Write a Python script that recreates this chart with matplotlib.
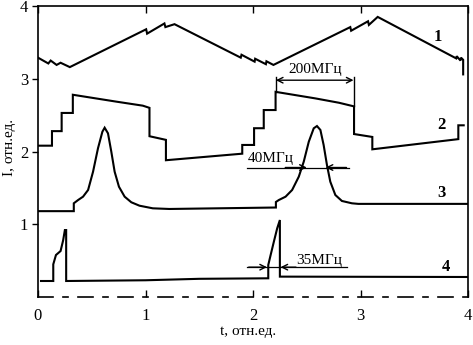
import matplotlib
matplotlib.use("Agg")
import matplotlib.pyplot as plt

plt.rcParams['font.family'] = ['Liberation Serif', 'DejaVu Serif']

# curve 1 (triangle with small jags)
t1 = [0.0, 0.096, 0.118, 0.173, 0.21, 0.296, 1.006, 1.015, 1.176, 1.185, 1.27,
      1.886, 1.893, 2.015, 2.02, 2.12, 2.125, 2.19, 2.905, 2.913, 3.07, 3.078,
      3.16, 3.89, 3.895, 3.93, 3.935, 3.955, 3.955]
i1 = [3.29, 3.21, 3.25, 3.19, 3.22, 3.16, 3.68, 3.62, 3.76, 3.71, 3.75,
      3.29, 3.33, 3.235, 3.275, 3.20, 3.24, 3.19, 3.71, 3.66, 3.79, 3.74,
      3.85, 3.28, 3.31, 3.25, 3.29, 3.26, 3.06]

# curve 2 (staircase)
t2 = [0.0, 0.13, 0.13, 0.22, 0.22, 0.324, 0.324, 0.73, 0.975, 1.037, 1.037,
      1.19, 1.19, 1.90, 1.90, 2.01, 2.01, 2.10, 2.10, 2.21, 2.21, 2.58, 2.80,
      2.94, 2.94, 3.11, 3.11, 3.91, 3.91, 3.96]
i2 = [2.08, 2.08, 2.28, 2.28, 2.53, 2.53, 2.78, 2.685, 2.63, 2.60, 2.21,
      2.16, 1.88, 1.97, 2.09, 2.09, 2.32, 2.32, 2.57, 2.57, 2.82, 2.73, 2.67,
      2.62, 2.24, 2.20, 2.03, 2.17, 2.36, 2.36]

# curve 3 (peaks)
t3 = [0.0, 0.333, 0.333, 0.373, 0.419, 0.466, 0.512, 0.558, 0.599, 0.62,
      0.651, 0.682, 0.713, 0.753, 0.806, 0.868, 0.944, 1.068, 1.222, 2.213,
      2.213, 2.24, 2.303, 2.364, 2.426, 2.472, 2.519, 2.565, 2.595, 2.627,
      2.657, 2.688, 2.719, 2.766, 2.827, 2.92, 2.98, 3.07, 4.0]
i3 = [1.18, 1.18, 1.288, 1.333, 1.379, 1.471, 1.722, 2.044, 2.272, 2.327,
      2.25, 1.997, 1.722, 1.516, 1.379, 1.302, 1.255, 1.219, 1.21, 1.23,
      1.306, 1.333, 1.379, 1.471, 1.654, 1.86, 2.135, 2.319, 2.35, 2.296,
      2.09, 1.814, 1.585, 1.402, 1.32, 1.288, 1.28, 1.28, 1.28]

# curve 4 (short pulses)
t4 = [0.028, 0.142, 0.142, 0.167, 0.21, 0.234, 0.25, 0.262, 0.262, 1.0, 1.5,
      2.142, 2.142, 2.164, 2.194, 2.225, 2.25, 2.25, 4.0]
i4 = [0.22, 0.22, 0.449, 0.577, 0.632, 0.78, 0.92, 0.92, 0.22, 0.23, 0.25,
      0.257, 0.44, 0.577, 0.76, 0.944, 1.058, 0.28, 0.275]

xticks = [0, 1, 2, 3, 4]
yticks = [1, 2, 3, 4]

fig = plt.figure(figsize=(4.73, 3.45), dpi=100)
ax = fig.add_axes([38 / 473, 48 / 345, 430 / 473, 291 / 345])

for t, i in [(t1, i1), (t2, i2), (t3, i3), (t4, i4)]:
    ax.plot(t, i, color='black', lw=1.5, solid_joinstyle='miter')

ax.set_xlim(0, 4)
ax.set_ylim(0, 4)
ax.set_xticks(xticks)
ax.set_xticklabels([str(v) for v in xticks])
ax.set_yticks(yticks)
ax.set_yticklabels([str(v) for v in yticks])
ax.tick_params(axis='x', direction='in', top=True, length=5, width=1,
               labelsize=12, pad=8)
ax.tick_params(axis='y', direction='out', length=4, width=1,
               labelsize=12, pad=3)
for s in ax.spines.values():
    s.set_linewidth(1.2)
ax.spines['bottom'].set_linestyle((0, (9, 6, 3, 6)))

# curve numbers
ax.text(3.72, 3.57, '1', fontsize=12, fontweight='bold', ha='center', va='center')
ax.text(3.75, 2.36, '2', fontsize=12, fontweight='bold', ha='center', va='center')
ax.text(3.75, 1.43, '3', fontsize=12, fontweight='bold', ha='center', va='center')
ax.text(3.79, 0.41, '4', fontsize=12, fontweight='bold', ha='center', va='center')

arrow = dict(arrowstyle='->', lw=1, color='black', shrinkA=0, shrinkB=0,
             mutation_scale=10)

# 200 MHz
ax.plot([2.213, 2.213], [2.82, 3.02], color='black', lw=1)
ax.plot([2.935, 2.935], [2.62, 3.02], color='black', lw=1)
ax.annotate('', xy=(2.213, 2.98), xytext=(2.935, 2.98),
            arrowprops=dict(arrowstyle='<->', lw=1, color='black',
                            shrinkA=0, shrinkB=0, mutation_scale=10))
ax.text(2.574, 3.13, '200МГц', fontsize=11, ha='center', va='center')

# 40 MHz
ax.plot([1.944, 2.89], [1.78, 1.78], color='black', lw=0.9)
ax.annotate('', xy=(2.50, 1.78), xytext=(2.30, 1.78), arrowprops=arrow)
ax.annotate('', xy=(2.676, 1.78), xytext=(2.87, 1.78), arrowprops=arrow)
ax.text(2.38, 1.90, '40МГц', fontsize=11, ha='right', va='center')

# 35 MHz
ax.plot([1.944, 2.87], [0.41, 0.41], color='black', lw=0.9)
ax.annotate('', xy=(2.13, 0.41), xytext=(1.96, 0.41), arrowprops=arrow)
ax.annotate('', xy=(2.256, 0.41), xytext=(2.40, 0.41), arrowprops=arrow)
ax.text(2.40, 0.50, '35МГц', fontsize=11, ha='left', va='center')

fig.text(248 / 473, 1 - 332 / 345, 't, отн.ед.', fontsize=11,
         ha='center', va='center')
fig.text(9 / 473, 1 - 148 / 345, 'I, отн.ед.', fontsize=11, rotation=90,
         ha='center', va='center')

fig.savefig('out.png', dpi=100)
